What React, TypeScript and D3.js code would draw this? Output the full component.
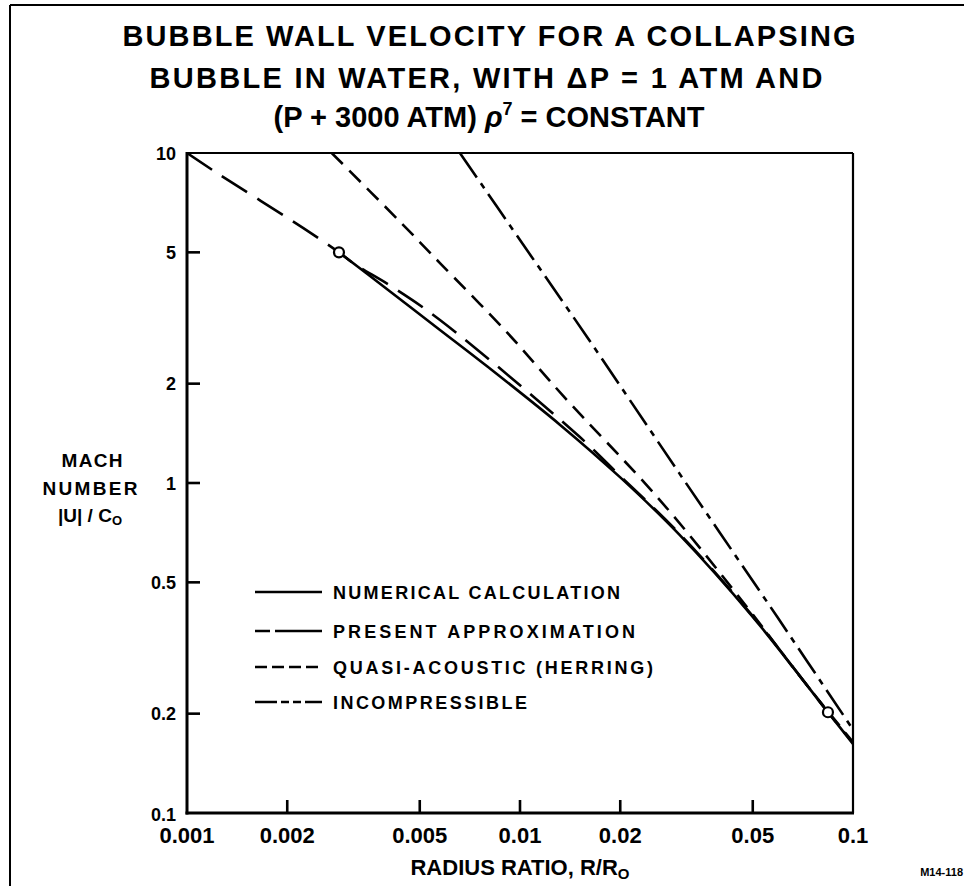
import React from "react";
import * as d3 from "d3";

const numericalR = [0.00286, 0.004, 0.00575, 0.008, 0.0132, 0.02, 0.03, 0.05, 0.0841, 0.1];
const numericalU = [5, 3.86, 2.91, 2.25, 1.5, 1.04, 0.7, 0.393, 0.202, 0.162];

const presentR = [0.001, 0.00123, 0.00223, 0.00286, 0.00317, 0.00413, 0.00575, 0.0151, 0.02, 0.03, 0.05, 0.0841, 0.1];
const presentU = [10, 8.7, 5.93, 5, 4.62, 3.93, 3.12, 1.38, 1.05, 0.705, 0.395, 0.202, 0.163];

const quasiR = [0.00272, 0.00437, 0.00575, 0.00914, 0.01346, 0.0263, 0.0481, 0.07, 0.1];
const quasiU = [10, 6.18, 4.64, 2.86, 1.84, 0.888, 0.42, 0.256, 0.164];

const incompR = [0.0066, 0.01, 0.0159, 0.03, 0.0592, 0.1];
const incompU = [10, 5.45, 2.77, 1.075, 0.393, 0.179];

const markerR = [0.00286, 0.0841];
const markerU = [5, 0.202];

const xTicks = [0.001, 0.002, 0.005, 0.01, 0.02, 0.05, 0.1];
const xTickLabels = ["0.001", "0.002", "0.005", "0.01", "0.02", "0.05", "0.1"];
const yTicks = [10, 5, 2, 1, 0.5, 0.2, 0.1];
const yTickLabels = ["10", "5", "2", "1", "0.5", "0.2", "0.1"];

const titleLines = [
  "BUBBLE WALL VELOCITY FOR A COLLAPSING",
  "BUBBLE IN WATER, WITH \u0394P = 1 ATM AND",
];

const legendLabels = [
  "NUMERICAL CALCULATION",
  "PRESENT APPROXIMATION",
  "QUASI-ACOUSTIC (HERRING)",
  "INCOMPRESSIBLE",
];

const FONT = "'Liberation Sans', Arial, sans-serif";

export default function App() {
  const L = 187, R = 853, T = 153, B = 813;
  const x = d3.scaleLog().domain([0.001, 0.1]).range([L, R]);
  const y = d3.scaleLog().domain([0.1, 10]).range([B, T]);

  const mk = (rs: number[], us: number[]) =>
    d3
      .line<number>()
      .x((_, i) => x(rs[i]))
      .y((_, i) => y(us[i]))
      .curve(d3.curveCatmullRom.alpha(0.5))(rs) as string;

  const series = [
    { d: mk(numericalR, numericalU), dash: "none" },
    { d: mk(presentR, presentU), dash: "30 12" },
    { d: mk(quasiR, quasiU), dash: "16 9" },
    { d: mk(incompR, incompU), dash: "30 7 6 7" },
  ];

  const legendDash = ["none", "15 5 47 5", "12 5", "22 4 8 4 8 4 22"];
  const legendY = [592, 631, 667, 702];
  const legendWidths = [287, 302, 320, 194];

  return (
    <svg
      width={964}
      height={886}
      style={{ position: "absolute", left: 0, top: 0, background: "#fff" }}
      fontFamily={FONT}
      fontWeight="bold"
    >
      <rect x={0} y={0} width={964} height={886} fill="#fff" />
      {/* page border */}
      <line x1={10} y1={5} x2={964} y2={5} stroke="#000" strokeWidth={2} />
      <line x1={10} y1={5} x2={10} y2={886} stroke="#000" strokeWidth={2} />

      {/* title */}
      <text x={489} y={46} fontSize={29} textAnchor="middle" textLength={733} lengthAdjust="spacing">
        {titleLines[0]}
      </text>
      <text x={486} y={88} fontSize={29} textAnchor="middle" textLength={673} lengthAdjust="spacing">
        {titleLines[1]}
      </text>
      <text x={489} y={127} fontSize={29} textAnchor="middle">
        <tspan>(P + 3000 ATM) </tspan>
        <tspan fontStyle="italic">{"\u03C1"}</tspan>
        <tspan fontSize={18} dy={-12}>7</tspan>
        <tspan dy={12}> = CONSTANT</tspan>
      </text>

      <defs>
        <clipPath id="plotclip">
          <rect x={L} y={T} width={R - L} height={B - T} />
        </clipPath>
      </defs>

      {/* curves */}
      <g clipPath="url(#plotclip)" fill="none" stroke="#000" strokeWidth={2.6}>
        {series.map((s, i) => (
          <path key={i} d={s.d} strokeDasharray={s.dash} />
        ))}
      </g>

      {/* frame */}
      <line x1={L} y1={T} x2={R} y2={T} stroke="#000" strokeWidth={2.2} />
      <line x1={R} y1={T} x2={R} y2={B} stroke="#000" strokeWidth={2.2} />
      <line x1={L} y1={T - 1} x2={L} y2={B + 1.5} stroke="#000" strokeWidth={3} />
      <line x1={L - 1.5} y1={B} x2={R + 1} y2={B} stroke="#000" strokeWidth={3} />

      {/* ticks */}
      {xTicks.slice(1, -1).map((t, i) => (
        <line key={"xt" + i} x1={x(t)} x2={x(t)} y1={B} y2={B - 13} stroke="#000" strokeWidth={2.6} />
      ))}
      {yTicks.slice(1, -1).map((t, i) => (
        <line key={"yt" + i} x1={L} x2={L + 13} y1={y(t)} y2={y(t)} stroke="#000" strokeWidth={2.6} />
      ))}

      {/* x tick labels */}
      {xTicks.map((t, i) => (
        <text key={"xl" + i} x={x(t)} y={843} fontSize={22} textAnchor="middle">
          {xTickLabels[i]}
        </text>
      ))}
      {/* y tick labels */}
      {yTicks.map((t, i) => (
        <text
          key={"yl" + i}
          x={176}
          y={i === yTicks.length - 1 ? 821 : y(t) + 6.5}
          fontSize={18}
          textAnchor="end"
        >
          {yTickLabels[i]}
        </text>
      ))}

      {/* markers */}
      {markerR.map((r, i) => (
        <circle key={"m" + i} cx={x(r)} cy={y(markerU[i])} r={5} fill="#fff" stroke="#000" strokeWidth={2.2} />
      ))}

      {/* legend */}
      {legendLabels.map((lab, i) => (
        <g key={"lg" + i}>
          <line
            x1={255}
            x2={322}
            y1={legendY[i]}
            y2={legendY[i]}
            stroke="#000"
            strokeWidth={2.6}
            strokeDasharray={legendDash[i]}
          />
          <text x={333} y={legendY[i] + 7} fontSize={18} textLength={legendWidths[i]} lengthAdjust="spacing">
            {lab}
          </text>
        </g>
      ))}

      {/* axis titles */}
      <text x={520} y={875} fontSize={22} textAnchor="middle">
        <tspan>RADIUS RATIO, R/R</tspan>
        <tspan fontSize={15} dy={4}>O</tspan>
      </text>
      <g fontSize={19} textAnchor="middle">
        <text x={92} y={467} textLength={61} lengthAdjust="spacing">MACH</text>
        <text x={90} y={495} textLength={95} lengthAdjust="spacing">NUMBER</text>
        <text x={90} y={522}>
          <tspan>|U| / C</tspan>
          <tspan fontSize={13} dy={3}>O</tspan>
        </text>
      </g>

      <text x={963} y={876} fontSize={11} textAnchor="end">M14-118</text>
    </svg>
  );
}
